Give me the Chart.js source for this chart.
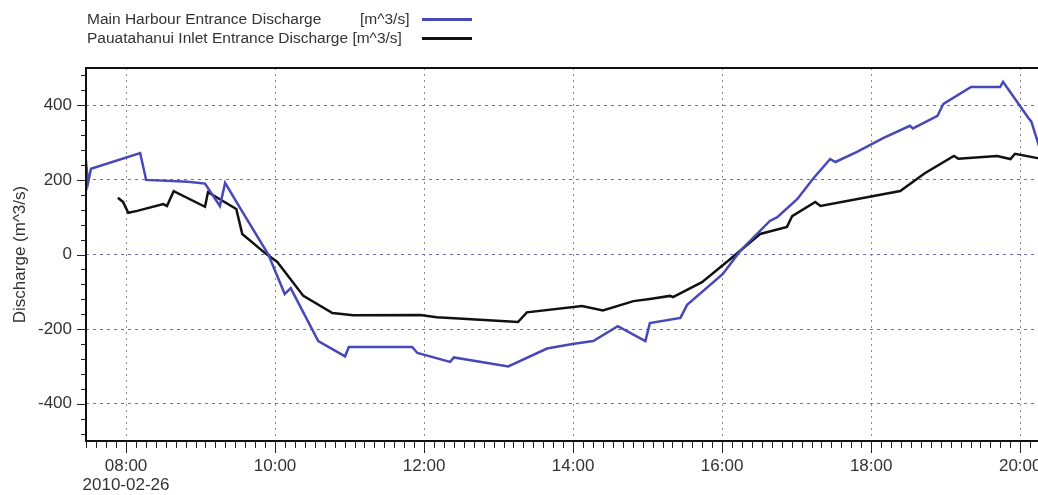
<!DOCTYPE html>
<html>
<head>
<meta charset="utf-8">
<script src="https://cdn.jsdelivr.net/npm/chart.js@4"></script>
<style>
  html, body { margin: 0; padding: 0; background: #fff; overflow: hidden; }
  #wrap { position: relative; width: 1060px; height: 495px; }
  .leg { position: absolute; font-family: "Liberation Sans", Arial, sans-serif; font-size: 15.5px; color: #333; white-space: nowrap; line-height: 18px; }
  .sw { position: absolute; width: 50px; height: 3px; }
</style>
</head>
<body>
<div id="wrap">
  <div class="leg" style="left:87px; top:10px;">Main Harbour Entrance Discharge</div>
  <div class="leg" style="left:360px; top:10px;">[m^3/s]</div>
  <div class="sw" style="left:422px; top:18px; background:#4848b8;"></div>
  <div class="leg" style="left:87px; top:29px;">Pauatahanui Inlet Entrance Discharge [m^3/s]</div>
  <div class="sw" style="left:422px; top:37px; background:#111;"></div>
  <canvas id="chart" width="1060" height="495"></canvas>
</div>
<script>
// ---- data (time in decimal hours, 2010-02-26) ----
const blueTimes = [7.46, 7.49, 7.53, 8.19, 8.27, 8.83, 9.06, 9.26, 9.33, 9.53, 9.91, 10.13, 10.21, 10.58, 10.94,
    10.99, 11.84, 11.91, 12.35, 12.40, 13.13, 13.65, 13.99, 14.27, 14.60, 14.97, 15.03, 15.44, 15.53, 16.01,
    16.24, 16.64, 16.74, 17.01, 17.22, 17.45, 17.52, 17.81, 18.16, 18.52, 18.56, 18.89, 18.97, 19.34, 19.73,
    19.77, 20.11, 20.15, 20.27];
const blueValues = [256, 192, 230, 272, 200, 195, 190, 130, 192, 125, 0, -106, -90, -232, -273,
    -248, -248, -264, -288, -276, -300, -252, -240, -232, -192, -232, -184, -170, -135, -52,
    9, 90, 100, 149, 203, 256, 248, 275, 312, 345, 338, 372, 404, 449, 449,
    463, 366, 356, 280];

const blackTimes = [7.89, 7.96, 8.03, 8.15, 8.50, 8.55, 8.64, 9.06, 9.10, 9.48, 9.56, 9.87, 10.03, 10.38, 10.77,
    11.05, 11.95, 12.17, 12.75, 13.26, 13.38, 14.12, 14.40, 14.81, 15.03, 15.30, 15.34, 15.73, 16.11, 16.51,
    16.87, 16.94, 17.25, 17.32, 18.39, 18.72, 19.11, 19.17, 19.69, 19.87, 19.93, 20.27];
const blackValues = [152, 141, 112, 117, 135, 130, 170, 128, 167, 122, 55, 3, -20, -111, -157,
    -163, -162, -168, -175, -181, -155, -138, -150, -125, -119, -111, -114, -74, -12, 55,
    74, 103, 141, 130, 170, 218, 264, 257, 264, 256, 270, 257];

const xTickValues = [8, 10, 12, 14, 16, 18, 20];
const xTickLabels = [['08:00', '2010-02-26'], '10:00', '12:00', '14:00', '16:00', '18:00', '20:00'];
const yTickValues = [-400, -200, 0, 200, 400];

const xMin = 7.463, xMax = 20.40;
const yMin = -500, yMax = 500;
const xMinorStep = 2 / 15;   // 8 minutes
const yMinorStep = 40;

const toPoints = (ts, vs) => ts.map((t, i) => ({ x: t, y: vs[i] }));

// minor/major ticks + plot frame
const axisDecor = {
    id: 'axisDecor',
    afterDraw(chart) {
        const { ctx, chartArea: a, scales: { x, y } } = chart;
        ctx.save();
        ctx.strokeStyle = '#222';
        ctx.lineWidth = 1;
        ctx.beginPath();
        for (let k = -4; 8 + k * xMinorStep <= xMax; k++) {
            const px = Math.round(x.getPixelForValue(8 + k * xMinorStep)) + 0.5;
            if (px < a.left) continue;
            const len = (k % 15 === 0) ? 12 : 7;
            ctx.moveTo(px, a.bottom);
            ctx.lineTo(px, a.bottom + len);
        }
        for (let v = -480; v <= 480; v += yMinorStep) {
            const py = Math.round(y.getPixelForValue(v)) + 0.5;
            const len = (v % 200 === 0) ? 9 : 5;
            ctx.moveTo(a.left, py);
            ctx.lineTo(a.left - len, py);
        }
        ctx.stroke();

        ctx.strokeStyle = '#111';
        ctx.lineWidth = 2;
        ctx.beginPath();
        ctx.moveTo(a.right + 20, a.top);
        ctx.lineTo(a.left, a.top);
        ctx.lineTo(a.left, a.bottom);
        ctx.lineTo(a.right + 20, a.bottom);
        ctx.stroke();
        ctx.restore();
    }
};

new Chart(document.getElementById('chart'), {
    type: 'line',
    data: {
        datasets: [
            {
                label: 'Main Harbour Entrance Discharge [m^3/s]',
                data: toPoints(blueTimes, blueValues),
                borderColor: '#4848b8',
                borderWidth: 2.5,
                pointRadius: 0,
                tension: 0
            },
            {
                label: 'Pauatahanui Inlet Entrance Discharge [m^3/s]',
                data: toPoints(blackTimes, blackValues),
                borderColor: '#111',
                borderWidth: 2.5,
                pointRadius: 0,
                tension: 0
            }
        ]
    },
    options: {
        responsive: false,
        animation: false,
        layout: { padding: { top: 68, right: 10, left: 0, bottom: 0 } },
        plugins: { legend: { display: false }, tooltip: { enabled: false } },
        scales: {
            x: {
                type: 'linear',
                min: xMin,
                max: xMax,
                afterBuildTicks: s => { s.ticks = xTickValues.map(v => ({ value: v })); },
                afterFit: s => { s.height = 54; },
                ticks: {
                    autoSkip: false,
                    maxRotation: 0,
                    padding: 16,
                    color: '#333',
                    font: { family: '"Liberation Sans", Arial, sans-serif', size: 17, lineHeight: 1.1 },
                    callback: (v, i) => xTickLabels[i]
                },
                grid: { color: '#8a8a8a', lineWidth: 1, drawTicks: false },
                border: { display: false, dash: [2, 4] }
            },
            y: {
                min: yMin,
                max: yMax,
                afterBuildTicks: s => { s.ticks = yTickValues.map(v => ({ value: v })); },
                afterFit: s => { s.width = 86; },
                ticks: {
                    padding: 14,
                    color: '#333',
                    font: { family: '"Liberation Sans", Arial, sans-serif', size: 17 }
                },
                title: {
                    display: true,
                    text: 'Discharge (m^3/s)',
                    color: '#333',
                    padding: { top: 10, bottom: 0 },
                    font: { family: '"Liberation Sans", Arial, sans-serif', size: 17 }
                },
                grid: { color: '#6e6ec0', lineWidth: 1, drawTicks: false },
                border: { display: false, dash: [3, 4] }
            }
        }
    },
    plugins: [axisDecor]
});
</script>
</body>
</html>
